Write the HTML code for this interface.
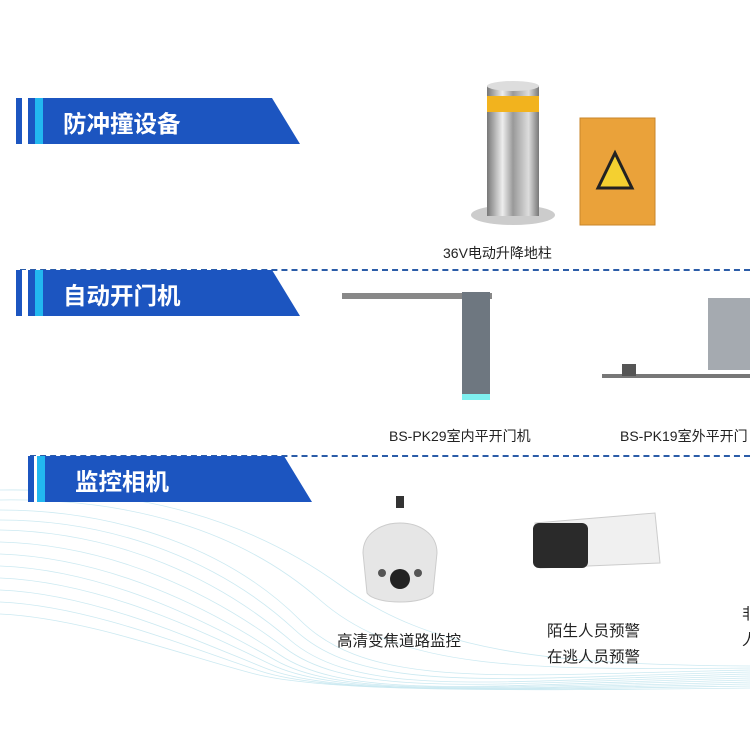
<!DOCTYPE html>
<html><head><meta charset="utf-8"><style>
body{margin:0;width:750px;height:750px;background:#fff;position:relative;overflow:hidden;font-family:"Liberation Sans","Noto Sans CJK SC",sans-serif}
.a{position:absolute}
.ban{position:absolute;height:46px;width:284px}
.ban .t{position:absolute;left:47px;top:7px;color:#fff;font-weight:bold;font-size:23.5px;font-family:"Noto Sans CJK SC",sans-serif}
.lbl{position:absolute;font-size:14px;color:#222;white-space:nowrap;font-family:"Liberation Sans","Noto Sans CJK SC",sans-serif}
.c{font-size:15.5px}
.dash{position:absolute;height:0;border-top:2px dashed #2b5ca8;right:0}
</style></head><body>
<svg class="a" style="left:0;top:470px" width="750" height="280">
<g fill="none" stroke="#bfe4ee" stroke-width="0.8" opacity="0.8">
<path d="M0 40 C120 40 230 80 300 150 S 500 205 750 200"/>
<path d="M0 50 C120 50 225 95 295 160 S 500 208 750 202"/>
<path d="M0 60 C120 62 220 110 290 170 S 500 210 750 204"/>
<path d="M0 72 C115 75 215 125 285 178 S 500 212 750 206"/>
<path d="M0 84 C110 88 210 138 280 185 S 500 214 750 208"/>
<path d="M0 96 C105 100 205 150 275 190 S 500 216 750 210"/>
<path d="M0 108 C100 112 200 160 270 194 S 500 218 750 212"/>
<path d="M0 120 C95 124 195 170 265 198 S 500 219 750 214"/>
<path d="M0 132 C90 136 190 178 260 201 S 500 220 750 216"/>
<path d="M0 144 C85 148 185 186 255 204 S 500 221 750 218"/>
<path d="M0 30 C130 28 240 60 320 130 S 520 200 750 198"/>
<path d="M0 20 C140 18 250 50 340 115 S 540 195 750 196"/>
</g></svg>

<div class="dash" style="left:20px;top:269px"></div>
<div class="dash" style="left:30px;top:455px"></div>

<svg class="a" style="left:16px;top:98px" width="290" height="46"><polygon points="0,0 256,0 284,46 0,46" fill="#1c55c0"/><rect x="6" y="0" width="6" height="46" fill="#fff"/><rect x="19" y="0" width="8" height="46" fill="#22b8f0"/></svg>
<div class="ban" style="left:16px;top:98px"><span class="t">防冲撞设备</span></div>
<svg class="a" style="left:16px;top:270px" width="290" height="46"><polygon points="0,0 256,0 284,46 0,46" fill="#1c55c0"/><rect x="6" y="0" width="6" height="46" fill="#fff"/><rect x="19" y="0" width="8" height="46" fill="#22b8f0"/></svg>
<div class="ban" style="left:16px;top:270px"><span class="t">自动开门机</span></div>
<svg class="a" style="left:28px;top:456px" width="290" height="46"><polygon points="0,0 256,0 284,46 0,46" fill="#1c55c0"/><rect x="6" y="0" width="6" height="46" fill="#fff"/><rect x="9" y="0" width="8" height="46" fill="#22b8f0"/></svg>
<div class="ban" style="left:28px;top:456px"><span class="t">监控相机</span></div>

<svg class="a" style="left:465px;top:78px" width="200" height="155">
<defs><linearGradient id="s" x1="0" x2="1"><stop offset="0" stop-color="#777"/><stop offset=".3" stop-color="#eee"/><stop offset=".5" stop-color="#999"/><stop offset=".8" stop-color="#ddd"/><stop offset="1" stop-color="#777"/></linearGradient></defs>
<ellipse cx="48" cy="137" rx="42" ry="10" fill="#ccc"/>
<rect x="22" y="8" width="52" height="130" fill="url(#s)"/>
<ellipse cx="48" cy="8" rx="26" ry="5" fill="#ddd"/>
<rect x="22" y="18" width="52" height="16" fill="#f2b31e"/>
<rect x="115" y="40" width="75" height="107" fill="#eaa23a" stroke="#c8852a"/>
<polygon points="150,75 133,110 167,110" fill="#f4d030" stroke="#222" stroke-width="3"/>
</svg>
<div class="lbl" style="left:443px;top:243px">36V电动升降地柱</div>

<svg class="a" style="left:340px;top:288px" width="410" height="120">
<rect x="2" y="5" width="150" height="6" fill="#888"/>
<rect x="122" y="4" width="28" height="108" fill="#6e7780"/>
<rect x="122" y="106" width="28" height="6" fill="#7ff0f0"/>
<rect x="262" y="86" width="148" height="4" fill="#777"/>
<rect x="282" y="76" width="14" height="12" fill="#555"/>
<rect x="368" y="10" width="42" height="72" fill="#a5aab0"/>
</svg>
<div class="lbl" style="left:389px;top:426px">BS-PK29室内平开门机</div>
<div class="lbl" style="left:620px;top:426px">BS-PK19室外平开门</div>

<svg class="a" style="left:355px;top:493px" width="320" height="115">
<rect x="41" y="3" width="8" height="12" fill="#333"/>
<path d="M8 60 C8 20 82 20 82 60 L78 100 C70 112 20 112 12 100Z" fill="#e6e6e6" stroke="#ccc"/>
<circle cx="45" cy="86" r="10" fill="#222"/>
<circle cx="27" cy="80" r="4" fill="#555"/><circle cx="63" cy="80" r="4" fill="#555"/>
<path d="M180 30 L300 20 L305 70 L185 75Z" fill="#f0f0f0" stroke="#ccc"/>
<rect x="178" y="30" width="55" height="45" rx="6" fill="#2a2a2a"/>
</svg>
<div class="lbl c" style="left:337px;top:629px">高清变焦道路监控</div>
<div class="lbl c" style="left:547px;top:619px">陌生人员预警</div>
<div class="lbl c" style="left:547px;top:645px">在逃人员预警</div>
<div class="lbl c" style="left:742px;top:602px">非</div>
<div class="lbl c" style="left:742px;top:628px">人</div>
</body></html>
